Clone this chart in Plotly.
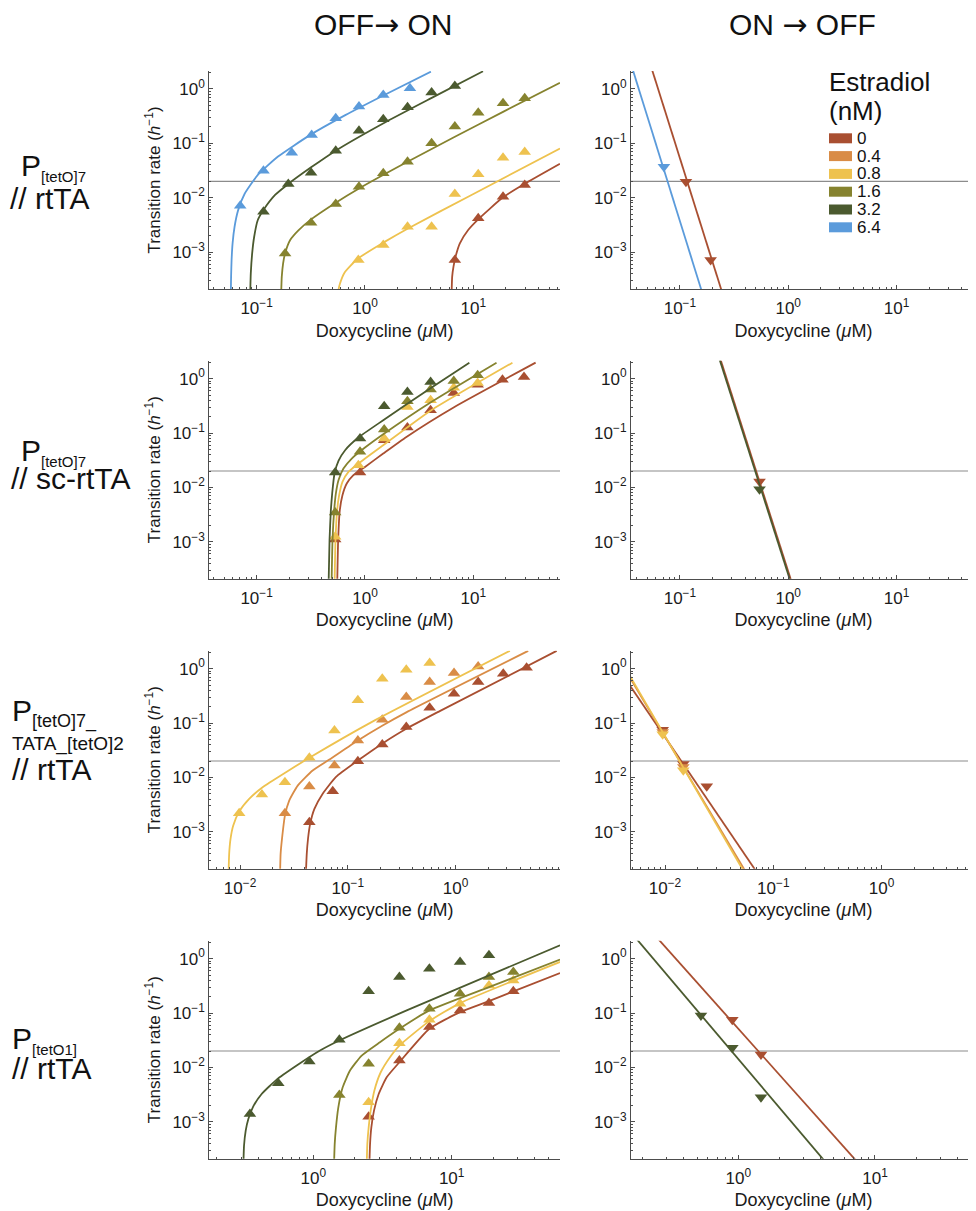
import plotly.graph_objects as go

# ------------------------------------------------------------------ data
estradiol_nM = ["0", "0.4", "0.8", "1.6", "3.2", "6.4"]
estradiol_colors = ["#A94F31", "#D98C46", "#EEC24F", "#86832F", "#4B5A2F", "#5B9BDB"]

ARROW = "<span style='font-family:DejaVu Sans'>\u2192</span>"
column_titles = ["OFF" + ARROW + " ON", "ON " + ARROW + " OFF"]

# Row 1: P[tetO]7 // rtTA  -- OFF->ON
r1on_e0_fit_dox = [6.29, 6.38, 6.56, 6.85, 7.51, 8.96, 11.09, 18.8, 29.8, 63]
r1on_e0_fit_rate = [1.5e-4, 3.52e-4, 5.37e-4, 8.2e-4, 0.00145, 0.00254, 0.00399, 0.01014, 0.018, 0.042]
r1on_e0_dox = [6.75, 11.1, 18.8, 29.8]
r1on_e0_rate = [0.00071, 0.00417, 0.0104, 0.0171]

r1on_e08_fit_dox = [0.565, 0.572, 0.588, 0.645, 0.85, 1.476, 2.47, 9.62, 63]
r1on_e08_fit_rate = [1.5e-4, 2.1e-4, 2.64e-4, 4.13e-4, 7.45e-4, 1.49e-3, 0.00269, 0.0112, 0.0805]
r1on_e08_dox = [0.868, 1.475, 2.47, 4.12, 6.75, 11.1, 18.8, 29.8]
r1on_e08_rate = [0.000713, 0.00135, 0.00292, 0.00292, 0.0117, 0.0269, 0.0544, 0.069]

r1on_e16_fit_dox = [0.168, 0.1706, 0.1755, 0.183, 0.204, 0.243, 0.318, 0.537, 0.881, 2.47, 6.76, 18.8, 63]
r1on_e16_fit_rate = [1.5e-4, 3.52e-4, 6.18e-4, 9.44e-4, 0.00166, 0.0025, 0.00399, 0.00809, 0.0148, 0.0459, 0.132, 0.379, 1.3]
r1on_e16_dox = [0.183, 0.318, 0.537, 0.88, 1.475, 2.47, 4.12, 6.75, 11.1, 18.8, 29.8]
r1on_e16_rate = [0.00094, 0.00347, 0.00764, 0.0159, 0.028, 0.046, 0.1, 0.203, 0.366, 0.545, 0.673]

r1on_e32_fit_dox = [0.0871, 0.0883, 0.0909, 0.0949, 0.1025, 0.1156, 0.148, 0.196, 0.318, 0.537, 1.587, 4.087, 12.29]
r1on_e32_fit_rate = [1.5e-4, 4.05e-4, 9.44e-4, 0.00191, 0.00388, 0.00593, 0.0112, 0.0179, 0.0361, 0.0733, 0.252, 0.678, 2.11]
r1on_e32_dox = [0.1156, 0.196, 0.318, 0.537, 0.88, 1.475, 2.47, 4.12, 6.75]
r1on_e32_rate = [0.0055, 0.0179, 0.0288, 0.0733, 0.171, 0.277, 0.46, 0.857, 1.13]

r1on_e64_fit_dox = [0.0577, 0.0581, 0.0587, 0.0600, 0.0625, 0.0675, 0.0775, 0.1025, 0.1575, 0.3075, 0.6575, 1.5575, 4.0575]
r1on_e64_fit_rate = [1.6e-4, 3.6e-4, 7.1e-4, 1.46e-3, 2.89e-3, 5.9e-3, 0.0118, 0.0262, 0.057, 0.14, 0.33, 0.80, 2.08]
r1on_e64_dox = [0.0705, 0.1156, 0.211, 0.322, 0.537, 0.88, 1.475, 2.6]
r1on_e64_rate = [0.0071, 0.0314, 0.067, 0.142, 0.288, 0.473, 0.776, 1.03]

# Row 1 -- ON->OFF
r1off_e0_fit_dox = [0.0524, 0.2694]
r1off_e0_fit_rate = [3.16, 1e-4]
r1off_e0_dox = [0.1136, 0.192]
r1off_e0_rate = [0.0197, 7.13e-4]

r1off_e64_fit_dox = [0.0348, 0.1758]
r1off_e64_fit_rate = [3.16, 1e-4]
r1off_e64_dox = [0.0711]
r1off_e64_rate = [0.0372]

# Row 2: P[tetO]7 // sc-rtTA -- OFF->ON
r2on_e0_fit_dox = [0.5536, 0.5654, 0.5856, 0.6194, 0.6787, 0.7816, 1.0, 1.473, 2.412, 6.695, 37.57]
r2on_e0_fit_rate = [1.5e-4, 1.07e-3, 3.81e-3, 7.19e-3, 0.01178, 0.01676, 0.0238, 0.0419, 0.0848, 0.3016, 1.968]
r2on_e0_dox = [0.5306, 0.900, 1.504, 2.463, 4.032, 6.60, 10.96, 18.58, 29.37]
r2on_e0_rate = [0.0011, 0.01875, 0.0736, 0.1259, 0.2621, 0.5453, 0.776, 0.9585, 1.073]

r2on_e08_fit_dox = [0.5233, 0.5344, 0.5536, 0.5775, 0.6194, 0.7033, 0.8687, 1.473, 4.089, 22.96]
r2on_e08_fit_rate = [1.5e-4, 1.07e-3, 3.81e-3, 7.19e-3, 0.01264, 0.0193, 0.0274, 0.0596, 0.2621, 1.968]
r2on_e08_dox = [0.5306, 0.8687, 1.504, 2.463, 4.032, 6.60, 10.96]
r2on_e08_rate = [0.00123, 0.0256, 0.0790, 0.3016, 0.3999, 0.6834, 0.8326]

r2on_e16_fit_dox = [0.4911, 0.5016, 0.5196, 0.5382, 0.5693, 0.6328, 0.7546, 1.0, 1.473, 4.089, 16.37]
r2on_e16_fit_rate = [1.5e-4, 1.07e-3, 3.81e-3, 7.71e-3, 0.01356, 0.0222, 0.0339, 0.0540, 0.095, 0.3726, 1.968]
r2on_e16_dox = [0.5306, 0.900, 1.504, 2.463, 4.032, 6.60, 10.96]
r2on_e16_rate = [0.00345, 0.0450, 0.1156, 0.3834, 0.628, 0.906, 1.151]

r2on_e32_fit_dox = [0.4609, 0.4708, 0.4842, 0.4980, 0.5233, 0.5693, 0.6555, 0.8687, 1.473, 4.089, 9.19]
r2on_e32_fit_rate = [1.5e-4, 1.07e-3, 3.81e-3, 7.71e-3, 0.0180, 0.0307, 0.0482, 0.0824, 0.1717, 0.68, 1.968]
r2on_e32_dox = [0.5306, 0.900, 1.504, 2.463, 4.032]
r2on_e32_rate = [0.01875, 0.0790, 0.3103, 0.569, 0.869]

# Row 2 -- ON->OFF
r2off_e0_fit_dox = [0.2244, 1.182]
r2off_e0_fit_rate = [3.16, 1e-4]
r2off_e0_dox = [0.543]
r2off_e0_rate = [0.0128]

r2off_e32_fit_dox = [0.220, 1.158]
r2off_e32_fit_rate = [3.16, 1e-4]
r2off_e32_dox = [0.543]
r2off_e32_rate = [0.00925]

# Row 3: P[tetO]7_TATA_[tetO]2 // rtTA -- OFF->ON
r3on_e0_fit_dox = [0.0409, 0.0416, 0.0428, 0.0447, 0.049, 0.0585, 0.0778, 0.124, 0.2085, 0.349, 0.713, 8.67]
r3on_e0_fit_rate = [1.78e-4, 3.89e-4, 7.59e-4, 1.38e-3, 2.63e-3, 5.01e-3, 0.01023, 0.0204, 0.0417, 0.0783, 0.1656, 2.12]
r3on_e0_dox = [0.044, 0.0725, 0.124, 0.209, 0.349, 0.575, 0.968, 1.62, 2.77, 4.56]
r3on_e0_rate = [0.00149, 0.00555, 0.0198, 0.0403, 0.084, 0.191, 0.346, 0.568, 0.809, 1.04]

r3on_e04_fit_dox = [0.0235, 0.0238, 0.0245, 0.0261, 0.0286, 0.0343, 0.0472, 0.0675, 0.124, 0.2085, 0.349, 4.72]
r3on_e04_fit_rate = [1.5e-4, 3.88e-4, 7.33e-4, 1.98e-3, 3.73e-3, 7.06e-3, 0.01337, 0.0213, 0.0477, 0.089, 0.157, 2.12]
r3on_e04_dox = [0.0261, 0.0440, 0.0752, 0.124, 0.209, 0.349, 0.575, 0.968, 1.62]
r3on_e04_rate = [0.00218, 0.00676, 0.0165, 0.0477, 0.115, 0.30, 0.568, 0.832, 1.10]

r3on_e08_fit_dox = [0.00782, 0.00793, 0.00816, 0.00864, 0.00982, 0.01216, 0.0162, 0.0267, 0.044, 0.171, 3.19]
r3on_e08_fit_rate = [1.5e-4, 3.88e-4, 7.33e-4, 1.29e-3, 2.34e-3, 4.01e-3, 6.58e-3, 0.01245, 0.0229, 0.107, 2.12]
r3on_e08_dox = [0.00982, 0.01596, 0.0261, 0.0440, 0.0752, 0.124, 0.209, 0.349, 0.575]
r3on_e08_rate = [0.00218, 0.00482, 0.00813, 0.0229, 0.0729, 0.261, 0.654, 0.959, 1.27]

# Row 3 -- ON->OFF
r3off_e0_fit_dox = [0.00398, 0.0861]
r3off_e0_fit_rate = [0.820, 1e-4]
r3off_e0_dox = [0.00952, 0.01476, 0.0243]
r3off_e0_rate = [0.075, 0.0177, 0.00687]

r3off_e04_fit_dox = [0.00398, 0.0667]
r3off_e04_fit_rate = [1.222, 1e-4]
r3off_e04_dox = [0.00952, 0.01476]
r3off_e04_rate = [0.068, 0.0155]

r3off_e08_fit_dox = [0.00398, 0.064]
r3off_e08_fit_rate = [1.343, 1e-4]
r3off_e08_dox = [0.00952, 0.01476]
r3off_e08_rate = [0.062, 0.0135]

# Row 4: P[tetO1] // rtTA -- OFF->ON
r4on_e0_fit_dox = [2.54, 2.57, 2.626, 2.745, 2.967, 3.39, 4.19, 6.90, 11.5, 18.6, 60.7]
r4on_e0_fit_rate = [1.5e-4, 3.88e-4, 7.87e-4, 1.6e-3, 3.24e-3, 6.58e-3, 0.01244, 0.0512, 0.104, 0.1656, 0.544]
r4on_e0_dox = [2.51, 4.19, 6.90, 11.5, 18.6, 27.9]
r4on_e0_rate = [0.00124, 0.0134, 0.055, 0.1115, 0.152, 0.25]

r4on_e08_fit_dox = [2.43, 2.456, 2.512, 2.596, 2.76, 3.07, 3.58, 4.19, 6.90, 11.5, 60.7]
r4on_e08_fit_rate = [1.5e-4, 3.88e-4, 7.87e-4, 1.6e-3, 3.73e-3, 8.13e-3, 0.01538, 0.0252, 0.0709, 0.152, 0.869]
r4on_e08_dox = [2.51, 4.19, 6.90, 11.5, 18.6, 27.9]
r4on_e08_rate = [0.00228, 0.0279, 0.075, 0.148, 0.322, 0.398]

r4on_e16_fit_dox = [1.41, 1.427, 1.458, 1.516, 1.630, 1.841, 2.236, 3.03, 4.19, 6.90, 18.6, 60.7]
r4on_e16_fit_rate = [1.5e-4, 3.88e-4, 7.87e-4, 1.84e-3, 4.3e-3, 8.73e-3, 0.0165, 0.029, 0.0512, 0.1115, 0.30, 0.959]
r4on_e16_dox = [1.542, 2.51, 4.19, 6.90, 11.5, 18.6, 27.9]
r4on_e16_rate = [0.0031, 0.0116, 0.0534, 0.1197, 0.2263, 0.459, 0.568]

r4on_e32_fit_dox = [0.312, 0.3155, 0.3245, 0.339, 0.368, 0.423, 0.543, 0.758, 1.117, 1.542, 4.73, 60.7]
r4on_e32_fit_rate = [1.5e-4, 3.61e-4, 6.84e-4, 1.12e-3, 1.92e-3, 3.24e-3, 5.96e-3, 0.0108, 0.0204, 0.0312, 0.1115, 1.76]
r4on_e32_dox = [0.348, 0.558, 0.936, 1.542, 2.51, 4.19, 6.90, 11.5, 18.6]
r4on_e32_rate = [0.00139, 0.0051, 0.0128, 0.0321, 0.25, 0.459, 0.654, 0.869, 1.15]

# Row 4 -- ON->OFF
r4off_e0_fit_dox = [0.2317, 9.18]
r4off_e0_fit_rate = [3.16, 1e-4]
r4off_e0_dox = [0.904, 1.465]
r4off_e0_rate = [0.075, 0.0172]

r4off_e32_fit_dox = [0.162, 5.31]
r4off_e32_fit_rate = [3.16, 1e-4]
r4off_e32_dox = [0.533, 0.904, 1.465]
r4off_e32_rate = [0.0902, 0.0229, 0.00281]

threshold_rate = 0.02

# (panel, estradiol index, fit x, fit y, points x, points y, marker)
series = [
    (1, 0, r1on_e0_fit_dox, r1on_e0_fit_rate, r1on_e0_dox, r1on_e0_rate, "triangle-up"),
    (1, 2, r1on_e08_fit_dox, r1on_e08_fit_rate, r1on_e08_dox, r1on_e08_rate, "triangle-up"),
    (1, 3, r1on_e16_fit_dox, r1on_e16_fit_rate, r1on_e16_dox, r1on_e16_rate, "triangle-up"),
    (1, 4, r1on_e32_fit_dox, r1on_e32_fit_rate, r1on_e32_dox, r1on_e32_rate, "triangle-up"),
    (1, 5, r1on_e64_fit_dox, r1on_e64_fit_rate, r1on_e64_dox, r1on_e64_rate, "triangle-up"),
    (2, 0, r1off_e0_fit_dox, r1off_e0_fit_rate, r1off_e0_dox, r1off_e0_rate, "triangle-down"),
    (2, 5, r1off_e64_fit_dox, r1off_e64_fit_rate, r1off_e64_dox, r1off_e64_rate, "triangle-down"),
    (3, 0, r2on_e0_fit_dox, r2on_e0_fit_rate, r2on_e0_dox, r2on_e0_rate, "triangle-up"),
    (3, 2, r2on_e08_fit_dox, r2on_e08_fit_rate, r2on_e08_dox, r2on_e08_rate, "triangle-up"),
    (3, 3, r2on_e16_fit_dox, r2on_e16_fit_rate, r2on_e16_dox, r2on_e16_rate, "triangle-up"),
    (3, 4, r2on_e32_fit_dox, r2on_e32_fit_rate, r2on_e32_dox, r2on_e32_rate, "triangle-up"),
    (4, 0, r2off_e0_fit_dox, r2off_e0_fit_rate, r2off_e0_dox, r2off_e0_rate, "triangle-down"),
    (4, 4, r2off_e32_fit_dox, r2off_e32_fit_rate, r2off_e32_dox, r2off_e32_rate, "triangle-down"),
    (5, 0, r3on_e0_fit_dox, r3on_e0_fit_rate, r3on_e0_dox, r3on_e0_rate, "triangle-up"),
    (5, 1, r3on_e04_fit_dox, r3on_e04_fit_rate, r3on_e04_dox, r3on_e04_rate, "triangle-up"),
    (5, 2, r3on_e08_fit_dox, r3on_e08_fit_rate, r3on_e08_dox, r3on_e08_rate, "triangle-up"),
    (6, 0, r3off_e0_fit_dox, r3off_e0_fit_rate, r3off_e0_dox, r3off_e0_rate, "triangle-down"),
    (6, 1, r3off_e04_fit_dox, r3off_e04_fit_rate, r3off_e04_dox, r3off_e04_rate, "triangle-down"),
    (6, 2, r3off_e08_fit_dox, r3off_e08_fit_rate, r3off_e08_dox, r3off_e08_rate, "triangle-down"),
    (7, 0, r4on_e0_fit_dox, r4on_e0_fit_rate, r4on_e0_dox, r4on_e0_rate, "triangle-up"),
    (7, 2, r4on_e08_fit_dox, r4on_e08_fit_rate, r4on_e08_dox, r4on_e08_rate, "triangle-up"),
    (7, 3, r4on_e16_fit_dox, r4on_e16_fit_rate, r4on_e16_dox, r4on_e16_rate, "triangle-up"),
    (7, 4, r4on_e32_fit_dox, r4on_e32_fit_rate, r4on_e32_dox, r4on_e32_rate, "triangle-up"),
    (8, 0, r4off_e0_fit_dox, r4off_e0_fit_rate, r4off_e0_dox, r4off_e0_rate, "triangle-down"),
    (8, 4, r4off_e32_fit_dox, r4off_e32_fit_rate, r4off_e32_dox, r4off_e32_rate, "triangle-down"),
]

# ------------------------------------------------------------------ layout geometry
# the page body has an 8px margin, so the figure is placed at (8, 8) in the window
OFF = 8
W, H = 968, 1203
FONT = "Liberation Sans, Arial, sans-serif"
AX = "#4d4d4d"
TXT = "#1a1a1a"


def px(x):
    return (x - OFF) / W


def py(y):
    return 1 - (y - OFF) / H


col_px = {1: (209.3, 560.0), 2: (631.0, 976.0)}
row_px = {1: (71.0, 289.0), 2: (360.7, 578.7), 3: (650.7, 868.7), 4: (940.7, 1158.7)}
xranges = {1: [-1.437, 1.80], 2: [-1.452, 1.734], 3: [-1.437, 1.80], 4: [-1.452, 1.734],
           5: [-2.285, 0.969], 6: [-2.314, 0.872], 7: [-0.752, 1.783], 8: [-0.785, 1.739]}
xtick_exps = {1: [-1, 0, 1], 2: [-1, 0, 1], 3: [-1, 0, 1], 4: [-1, 0, 1],
              5: [-2, -1, 0], 6: [-2, -1, 0], 7: [0, 1], 8: [0, 1]}
ytick_exps = [-3, -2, -1, 0]
yrange = [-3.68, 0.33]


def pow_label(e):
    return "10<sup>" + str(e).replace("-", "\u2212") + "</sup>"


minor_vals = [m * 10.0 ** e for e in range(-4, 3) for m in range(2, 10)]

fig = go.Figure()

layout_axes = {}
for r in range(1, 5):
    for c in range(1, 3):
        k = 2 * (r - 1) + c
        sfx = "" if k == 1 else str(k)
        x0, x1 = col_px[c]
        yt, yb = row_px[r]
        xe = xtick_exps[k]
        layout_axes["xaxis" + sfx] = dict(
            domain=[max(0.0, px(x0)), min(1.0, px(x1))], anchor="y" + sfx, type="log", range=xranges[k],
            showline=True, linecolor=AX, linewidth=1, mirror=False,
            ticks="inside", ticklen=4, tickcolor=AX, tickwidth=1,
            tickmode="array", tickvals=[10.0 ** e for e in xe], ticktext=[pow_label(e) for e in xe],
            tickfont=dict(family=FONT, size=17, color=TXT), ticklabelstandoff=4,
            minor=dict(tickmode="array", tickvals=minor_vals, ticks="inside", ticklen=2,
                       tickcolor=AX, tickwidth=1, showgrid=False),
            showgrid=False, zeroline=False,
            title=dict(text="Doxycycline (<i>\u03bc</i>M)", font=dict(family=FONT, size=18, color=TXT),
                       standoff=6),
        )
        layout_axes["yaxis" + sfx] = dict(
            domain=[py(yb), py(yt)], anchor="x" + sfx, type="log", range=yrange,
            showline=True, linecolor=AX, linewidth=1, mirror=False,
            ticks="inside", ticklen=4, tickcolor=AX, tickwidth=1,
            tickmode="array", tickvals=[10.0 ** e for e in ytick_exps],
            ticktext=[pow_label(e) for e in ytick_exps],
            tickfont=dict(family=FONT, size=17, color=TXT),
            minor=dict(tickmode="array", tickvals=minor_vals, ticks="inside", ticklen=2,
                       tickcolor=AX, tickwidth=1, showgrid=False),
            showgrid=False, zeroline=False,
            title=dict(text=("Transition rate (<i>h</i><sup>\u22121</sup>)" if c == 1 else ""),
                       font=dict(family=FONT, size=17, color=TXT), standoff=7),
        )
        fig.add_shape(type="line", xref=("x" + sfx + " domain"), yref=("y" + sfx),
                      x0=0, x1=1, y0=threshold_rate, y1=threshold_rate,
                      line=dict(color="#8c8c8c", width=1.2), layer="below")

for (k, ei, fx, fy, mx, my, sym) in series:
    sfx = "" if k == 1 else str(k)
    col = estradiol_colors[ei]
    fig.add_trace(go.Scatter(x=fx, y=fy, mode="lines", xaxis="x" + sfx, yaxis="y" + sfx,
                             line=dict(color=col, width=1.8, shape="spline", smoothing=0.5),
                             showlegend=False, hoverinfo="skip"))
    fig.add_trace(go.Scatter(x=mx, y=my, mode="markers", xaxis="x" + sfx, yaxis="y" + sfx,
                             marker=dict(symbol=sym, size=11, color=col, line=dict(width=0)),
                             showlegend=False, name=estradiol_nM[ei] + " nM"))

# ------------------------------------------------------------------ text
ann = []


def text(x, y, s, size, anchor="left"):
    ann.append(dict(x=px(x), y=py(y), xref="paper", yref="paper", text=s, showarrow=False,
                    xanchor=anchor, yanchor="middle", borderpad=0,
                    font=dict(family=FONT, size=size, color="#111")))


def sub(s, size):
    return "<sub><span style='font-size:%dpx'>%s</span></sub>" % (size, s)


text(383, 24, column_titles[0], 30, "center")
text(802, 24, column_titles[1], 30, "center")

# row labels
text(20, 167, "P" + sub("[tetO]7", 15), 30)
text(9, 198, "// rtTA", 30)

text(20, 452, "P" + sub("[tetO]7", 15), 30)
text(10, 479, "// sc-rtTA", 30)

text(11, 713, "P" + sub("[tetO]7_", 18), 30)
text(11, 744, "TATA_[tetO]2", 19)
text(11, 769, "// rtTA", 30)

text(11, 1040, "P" + sub("[tetO1]", 15), 30)
text(11, 1068, "// rtTA", 30)

# legend
text(828, 82, "Estradiol", 26)
text(828, 111, "(nM)", 26)
leg_y0, leg_dy = 138.3, 17.8
for i, (lab, col) in enumerate(zip(estradiol_nM, estradiol_colors)):
    yc = leg_y0 + i * leg_dy
    fig.add_shape(type="rect", xref="paper", yref="paper", x0=px(829), x1=px(852),
                  y0=py(yc + 5), y1=py(yc - 5), fillcolor=col, line=dict(width=0))
    text(856, yc, lab, 17)

fig.update_layout(
    width=W, height=H, autosize=False,
    margin=dict(l=0, r=0, t=0, b=0),
    paper_bgcolor="white", plot_bgcolor="white",
    showlegend=False, annotations=ann,
    font=dict(family=FONT, color="#111"),
    **layout_axes,
)

fig.write_html("out.html")
